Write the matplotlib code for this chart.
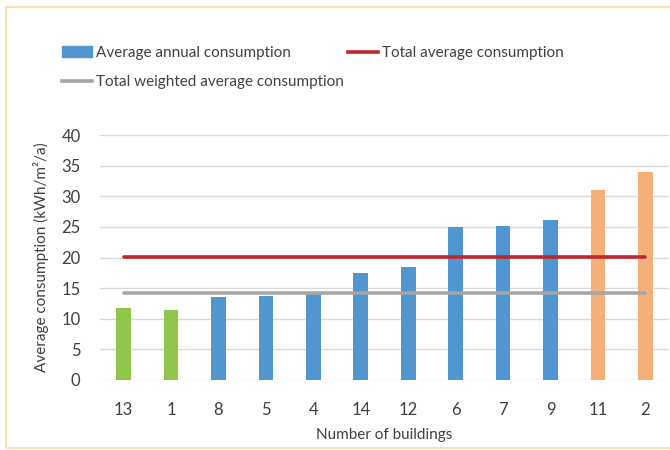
import numpy as np
import matplotlib
matplotlib.use("Agg")
import matplotlib.pyplot as plt
from matplotlib.patches import Patch, Rectangle
from matplotlib.lines import Line2D

plt.rcParams['font.family'] = ['Lato', 'DejaVu Sans']

# data
buildings = ["13", "1", "8", "5", "4", "14", "12", "6", "7", "9", "11", "2"]
consumption = [11.8, 11.45, 13.6, 13.7, 14.0, 17.4, 18.5, 24.9, 25.1, 26.2, 31.0, 34.0]
group = ["low", "low", "mid", "mid", "mid", "mid", "mid", "mid", "mid", "mid", "high", "high"]
total_avg = 20.1
weighted_avg = 14.2
yticks = [0, 5, 10, 15, 20, 25, 30, 35, 40]

group_color = {"low": "#92c54b", "mid": "#5097d2", "high": "#f4b07b"}
red = "#c0272d"
grey = "#a6a6a6"
text_color = "#404040"

W, H = 670, 450
fig = plt.figure(figsize=(W / 100, H / 100), dpi=100)

# light orange frame of the chart area (right side cut off in the reference)
fig.patches.append(Rectangle((6 / W, 2 / H), 700 / W, 441 / H,
                             transform=fig.transFigure, fill=False,
                             edgecolor="#fde0b0", linewidth=1.5))

ax = fig.add_axes([100 / W, 70 / H, 569 / W, 245 / H])
x = np.arange(len(buildings))
colors = [group_color[g] for g in group]
ax.bar(x, consumption, width=0.31, color=colors, zorder=3)
ax.plot(x, [total_avg] * len(x), color=red, linewidth=2.6,
        solid_capstyle="round", zorder=4)
ax.plot(x, [weighted_avg] * len(x), color=grey, linewidth=2.6,
        solid_capstyle="round", zorder=4)

ax.set_xlim(-0.5, len(x) - 0.5)
ax.set_ylim(0, 40)
ax.set_yticks(yticks)
ax.set_xticks(x, buildings)
ax.grid(axis="y", color="#d9d9d9", linewidth=1, zorder=0)
for s in ax.spines.values():
    s.set_visible(False)
ax.tick_params(axis="both", length=0, labelsize=12, colors=text_color)
ax.tick_params(axis="x", pad=16)
ax.tick_params(axis="y", pad=14)
ax.set_xlabel("Number of buildings", fontsize=11, color=text_color, labelpad=7)
ax.set_ylabel("Average consumption (kWh/m²/a)", fontsize=11,
              color=text_color, labelpad=9)

handles = [Patch(color=group_color["mid"]),
           Line2D([], [], color=grey, linewidth=2.6),
           Line2D([], [], color=red, linewidth=2.6)]
labels = ["Average annual consumption", "Total weighted average consumption",
          "Total average consumption"]
fig.legend(handles, labels, loc="upper left", bbox_to_anchor=(62 / W, 1 - 46 / H),
           ncol=2, frameon=False, fontsize=11, handlelength=1.95,
           handletextpad=0.25, columnspacing=0.3, labelspacing=1.0,
           borderaxespad=0, borderpad=0, labelcolor=text_color)

fig.savefig("out.png", dpi=100)
